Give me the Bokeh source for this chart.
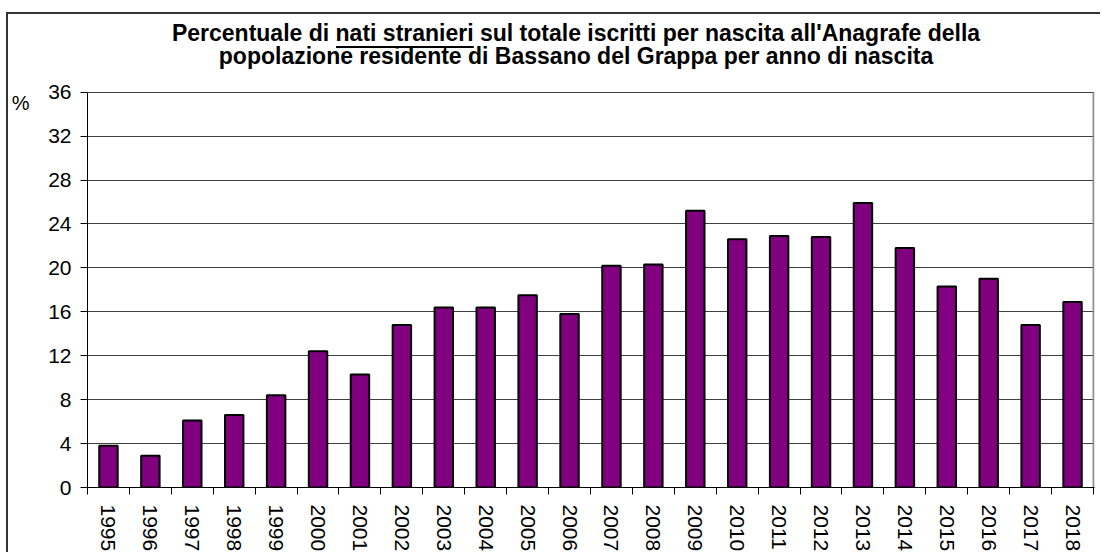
from bokeh.plotting import figure
from bokeh.models import Range1d, FixedTicker, LinearAxis
from bokeh.core.properties import value
from bokeh.embed import file_html
from bokeh.resources import INLINE

years = ["1995", "1996", "1997", "1998", "1999", "2000", "2001", "2002",
         "2003", "2004", "2005", "2006", "2007", "2008", "2009", "2010",
         "2011", "2012", "2013", "2014", "2015", "2016", "2017", "2018"]
percent = [3.8, 2.9, 6.1, 6.6, 8.4, 12.4, 10.3, 14.8,
           16.4, 16.4, 17.5, 15.8, 20.2, 20.3, 25.2, 22.6,
           22.9, 22.8, 25.9, 21.8, 18.3, 19.0, 14.8, 16.9]
y_ticks = [0, 4, 8, 12, 16, 20, 24, 28, 32, 36]
title_line1 = "Percentuale di nati stranieri sul totale iscritti per nascita all'Anagrafe della"
title_line2 = "popolazione residente di Bassano del Grappa per anno di nascita"
y_unit = "%"

FONT = "Liberation Sans"
TICK_SIZE = "21px"
n = len(years)
idx = list(range(n))
y_max = y_ticks[-1]

p = figure(width=1094, height=540, output_backend="svg", toolbar_location=None,
           x_range=Range1d(-0.5, n - 0.5 + 0.024), y_range=Range1d(0, 43.07),
           min_border_left=77, min_border_right=8, min_border_top=0,
           min_border_bottom=65)
p.styles = {"margin-left": "6px", "margin-top": "12px",
            "border-left": "2px solid #333333", "border-top": "2px solid #333333"}
p.outline_line_color = None
p.background_fill_color = "white"
p.border_fill_color = "white"

# gridlines
p.xgrid.visible = False
p.ygrid.ticker = FixedTicker(ticks=y_ticks[1:])
p.ygrid.grid_line_color = "#404040"
p.ygrid.grid_line_width = 1

# bars
p.vbar(x=idx, top=percent, width=0.44, bottom=0,
       fill_color="#800080", line_color="black", line_width=2)

# right border of plot area
p.segment(x0=[n - 0.5], y0=[0], x1=[n - 0.5], y1=[y_max],
          line_color="#909090", line_width=2)

# y axis
ya = p.yaxis[0]
ya.ticker = FixedTicker(ticks=y_ticks)
ya.bounds = (0, y_max)
ya.axis_line_color = "black"
ya.major_tick_line_color = "black"
ya.major_tick_in = 0
ya.major_tick_out = 7
ya.minor_tick_line_color = None
ya.major_label_standoff = 9
ya.major_label_text_font = FONT
ya.major_label_text_font_size = TICK_SIZE
ya.major_label_text_color = "black"

# unit "%" shown as a label of an outer, line-less left axis
unit_tick = 35
ua = LinearAxis(ticker=FixedTicker(ticks=[unit_tick], minor_ticks=[]),
                major_label_overrides={unit_tick: y_unit},
                axis_line_color=None, major_tick_line_color=None,
                minor_tick_line_color=None, major_tick_in=0, major_tick_out=0,
                major_label_standoff=16, major_label_text_font=FONT,
                major_label_text_font_size="20px", major_label_text_color="black")
p.add_layout(ua, "left")

# x axis: labels at centres, tick marks at category boundaries
xa = p.xaxis[0]
xa.ticker = FixedTicker(ticks=idx, minor_ticks=[i - 0.5 for i in range(n + 1)])
xa.major_label_overrides = {i: y for i, y in enumerate(years)}
xa.major_label_orientation = "vertical"
xa.major_tick_line_color = None
xa.major_tick_in = 0
xa.major_tick_out = 0
xa.minor_tick_line_color = "black"
xa.minor_tick_in = 0
xa.minor_tick_out = 7
xa.axis_line_color = "black"
xa.major_label_standoff = 10
xa.major_label_text_font = FONT
xa.major_label_text_font_size = TICK_SIZE
xa.major_label_text_color = "black"

# title (two centred lines, drawn above the 36 line)
title_x = 11.155
fpx = 23.0
p.text(x=[title_x], y=[41.40], text=[title_line1], text_align="center",
       text_baseline="alphabetic", text_font=value(FONT), text_font_size=f"{fpx}px",
       text_font_style="bold", text_color="black")
p.text(x=[title_x], y=[39.26], text=[title_line2], text_align="center",
       text_baseline="alphabetic", text_font=value(FONT), text_font_size=f"{fpx}px",
       text_font_style="bold", text_color="black")
# underline below "nati stranieri" (Arial Bold advance widths, in em)
line_em = 35.14
pre_em = 7.114
und_em = 6.002
ppu = 42.0
left = title_x - line_em * fpx / 2 / ppu
u0 = left + pre_em * fpx / ppu
u1 = u0 + und_em * fpx / ppu
p.segment(x0=[u0], y0=[40.12], x1=[u1], y1=[40.12], line_color="black", line_width=2)

open("out.html", "w").write(file_html(p, INLINE))
